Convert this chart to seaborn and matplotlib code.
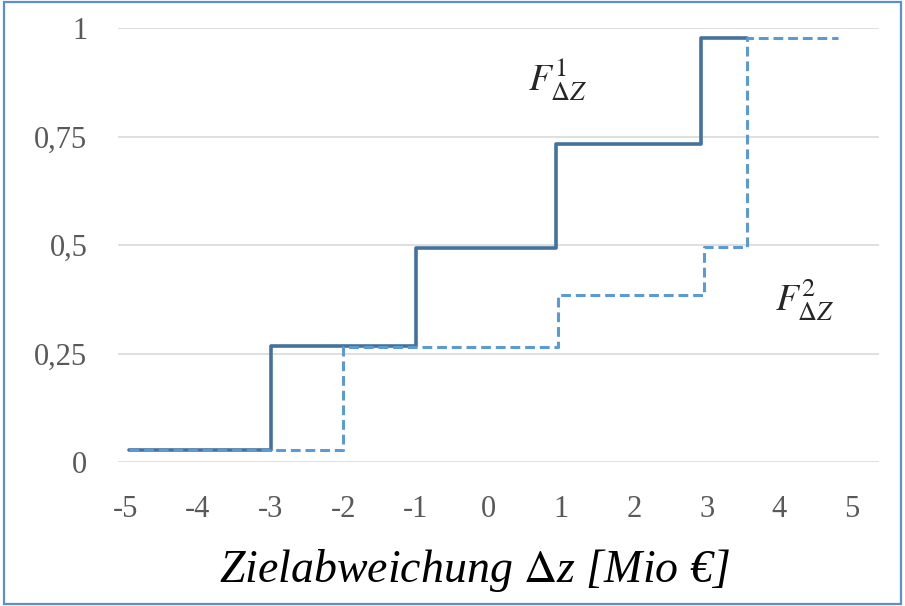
import matplotlib
matplotlib.use("Agg")
import matplotlib.pyplot as plt
import pandas as pd
import seaborn as sns
from matplotlib.patches import Rectangle

# Step points of the two distribution functions
f1_x = [-4.95, -3.0, -1.0, 0.93, 2.92, 3.55]
f1_y = [0.028, 0.267, 0.493, 0.733, 0.977, 0.977]
f2_x = [-4.95, -2.0, 0.95, 2.96, 3.56, 4.8]
f2_y = [0.028, 0.265, 0.385, 0.495, 0.977, 0.977]

x_ticks = [-5, -4, -3, -2, -1, 0, 1, 2, 3, 4, 5]
y_ticks = [0, 0.25, 0.5, 0.75, 1]
y_tick_labels = ["0", "0,25", "0,5", "0,75", "1"]

sns.set_style("white")
plt.rcParams["font.family"] = ["Liberation Serif", "DejaVu Serif"]
plt.rcParams["mathtext.fontset"] = "stix"

fig = plt.figure(figsize=(9.05, 6.06), dpi=100)
ax = fig.add_axes([118 / 905, (606 - 462) / 606, (879 - 118) / 905, (462 - 28) / 606])

df1 = pd.DataFrame({"x": f1_x, "y": f1_y})
df2 = pd.DataFrame({"x": f2_x, "y": f2_y})

sns.lineplot(data=df1, x="x", y="y", ax=ax, estimator=None, sort=False,
             drawstyle="steps-post", color="#44729f", linewidth=2.6)
sns.lineplot(data=df2, x="x", y="y", ax=ax, estimator=None, sort=False,
             drawstyle="steps-post", color="#5b9bd5", linewidth=2.2,
             linestyle=(0, (3.2, 1.6)))

ax.set_xlim(-5.1, 5.37)
ax.set_ylim(0, 1)
ax.set_xticks(x_ticks)
ax.set_xticklabels([str(t) for t in x_ticks])
ax.set_yticks(y_ticks)
ax.set_yticklabels(y_tick_labels)
ax.tick_params(axis="both", length=0, labelsize=22, labelcolor="#595959")
ax.tick_params(axis="y", pad=22)
ax.tick_params(axis="x", pad=24)
ax.grid(axis="y", color="#d9d9d9", linewidth=1.2)
ax.set_axisbelow(True)
for s in ax.spines.values():
    s.set_visible(False)

ax.set_xlabel(r"Zielabweichung $\Delta$z [Mio €]", fontsize=33, style="italic",
              color="black", va="top")
ax.xaxis.set_label_coords(0.468, -0.195)
ax.set_ylabel("")

ax.text(0.95, 0.88, r"$F^{1}_{\Delta Z}$", fontsize=27, ha="center", va="center")
ax.text(4.35, 0.375, r"$F^{2}_{\Delta Z}$", fontsize=27, ha="center", va="center")

# blue frame around the whole figure
fig.patches.append(Rectangle((0.004, 0.004), 0.992, 0.992, transform=fig.transFigure,
                             fill=False, edgecolor="#5b8fd0", linewidth=1.6))

fig.savefig("out.png", dpi=100)
